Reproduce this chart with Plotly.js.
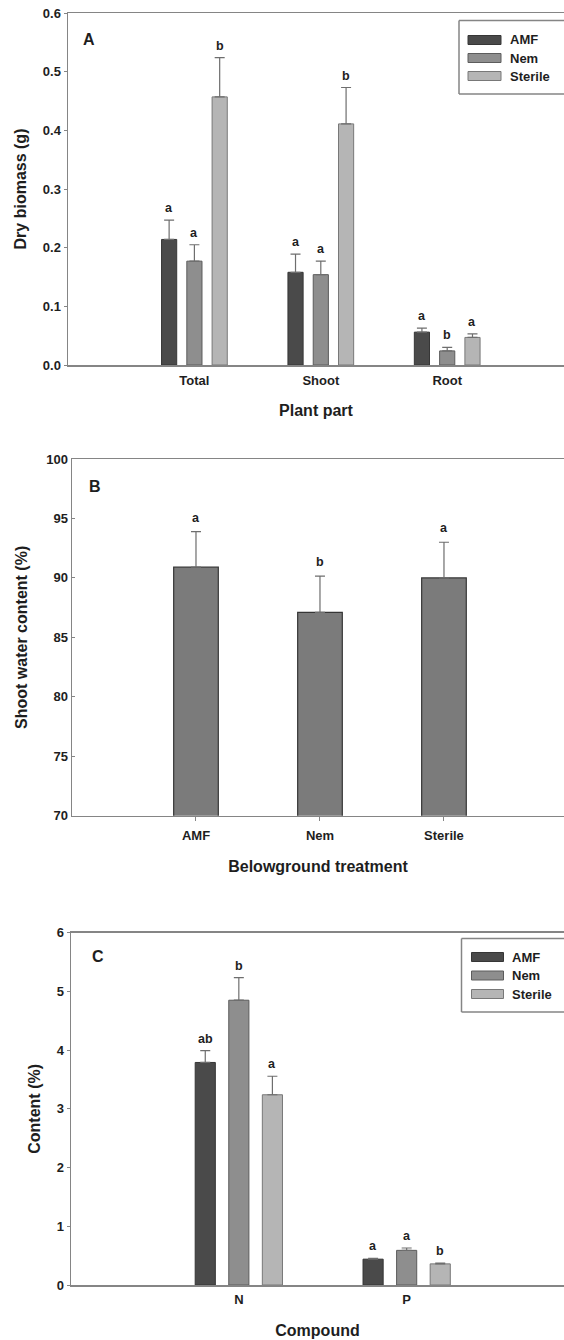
<!DOCTYPE html>
<html><head><meta charset="utf-8">
<script src="https://cdn.plot.ly/plotly-3.0.1.min.js"></script>
<style>html,body{margin:0;padding:0;background:#fff}#chart{width:564px;height:1340px}</style>
</head><body><div id="chart"></div>
<script>
// ---------- data ----------
const treatments = ['AMF', 'Nem', 'Sterile'];

// Panel A: dry biomass (g)
const plantParts = ['Total', 'Shoot', 'Root'];
const biomassAMF = [0.214, 0.158, 0.056];
const biomassNem = [0.177, 0.154, 0.024];
const biomassSterile = [0.457, 0.411, 0.047];
const biomassErrAMF = [0.033, 0.031, 0.007];
const biomassErrNem = [0.028, 0.023, 0.006];
const biomassErrSterile = [0.067, 0.062, 0.006];
const biomassLetAMF = ['a', 'a', 'a'];
const biomassLetNem = ['a', 'a', 'b'];
const biomassLetSterile = ['b', 'b', 'a'];

// Panel B: shoot water content (%)
const waterContent = [90.9, 87.1, 90.0];
const waterErr = [3.0, 3.05, 3.0];
const waterLetters = ['a', 'b', 'a'];

// Panel C: N and P content (%)
const compounds = ['N', 'P'];
const contentAMF = [3.79, 0.44];
const contentNem = [4.85, 0.59];
const contentSterile = [3.24, 0.36];
const contentErrAMF = [0.20, 0.015];
const contentErrNem = [0.385, 0.04];
const contentErrSterile = [0.315, 0.015];
const contentLetAMF = ['ab', 'a'];
const contentLetNem = ['b', 'a'];
const contentLetSterile = ['a', 'b'];

// ---------- styling ----------
const W = 564, H = 1340;
const FONT = 'Liberation Sans, Arial, Helvetica, sans-serif';
const TXT = '#1e1e1e';
const AXC = '#858585';
const fills = ['#4a4a4a', '#8e8e8e', '#b5b5b5'];
const outlines = ['#363636', '#5c5c5c', '#787878'];
const BARGAP = 0.4;
const slot = (1 - BARGAP) / 3;
const px = v => v / W;
const py = v => 1 - v / H;

const traces = [];
const annotations = [];
const shapes = [];

function addGroup(cats, seriesVals, seriesErr, seriesLet, xa, ya) {
  seriesVals.forEach((vals, k) => {
    traces.push({
      type: 'bar', name: treatments[k], x: cats, y: vals,
      xaxis: xa, yaxis: ya, showlegend: false,
      marker: {color: fills[k], line: {color: outlines[k], width: 1}},
      error_y: {type: 'data', symmetric: false, array: seriesErr[k],
        arrayminus: vals.map(() => 0), color: '#6e6e6e', thickness: 1.2, width: 5}
    });
    vals.forEach((v, i) => {
      annotations.push({
        xref: xa, yref: ya, x: i + (k - 1) * slot, y: v + seriesErr[k][i],
        text: seriesLet[k][i], showarrow: false, yanchor: 'bottom', yshift: 3,
        font: {family: FONT, size: 12.5, weight: 'bold', color: TXT}
      });
    });
  });
}

addGroup(plantParts, [biomassAMF, biomassNem, biomassSterile],
  [biomassErrAMF, biomassErrNem, biomassErrSterile],
  [biomassLetAMF, biomassLetNem, biomassLetSterile], 'x', 'y');

traces.push({
  type: 'bar', name: 'Shoot water content', x: treatments, y: waterContent,
  xaxis: 'x2', yaxis: 'y2', showlegend: false,
  marker: {color: '#7b7b7b', line: {color: '#363636', width: 1.2}},
  error_y: {type: 'data', symmetric: false, array: waterErr,
    arrayminus: waterErr.map(() => 0), color: '#6e6e6e', thickness: 1.2, width: 5}
});
waterContent.forEach((v, i) => {
  annotations.push({
    xref: 'x2', yref: 'y2', x: i, y: v + waterErr[i], text: waterLetters[i],
    showarrow: false, yanchor: 'bottom', yshift: 5,
    font: {family: FONT, size: 12.5, weight: 'bold', color: TXT}
  });
});

addGroup(compounds, [contentAMF, contentNem, contentSterile],
  [contentErrAMF, contentErrNem, contentErrSterile],
  [contentLetAMF, contentLetNem, contentLetSterile], 'x3', 'y3');

// panel letters
[['A', 89, 40], ['B', 95, 486], ['C', 98, 956]].forEach(([t, x, y]) => {
  annotations.push({xref: 'paper', yref: 'paper', x: px(x), y: py(y), text: t,
    showarrow: false, xanchor: 'center', yanchor: 'middle',
    font: {family: FONT, size: 16, weight: 'bold', color: TXT}});
});

// legends (panels A and C): box open on the right, cropped at the figure edge
function legendBox(x0, y0, y1, swX0, swX1, txtX, rows) {
  const ln = {color: AXC, width: 1.5};
  shapes.push({type: 'line', xref: 'paper', yref: 'paper', x0: px(x0), x1: 1, y0: py(y0), y1: py(y0), line: ln});
  shapes.push({type: 'line', xref: 'paper', yref: 'paper', x0: px(x0), x1: 1, y0: py(y1), y1: py(y1), line: ln});
  shapes.push({type: 'line', xref: 'paper', yref: 'paper', x0: px(x0), x1: px(x0), y0: py(y0), y1: py(y1), line: ln});
  treatments.forEach((name, k) => {
    shapes.push({type: 'rect', xref: 'paper', yref: 'paper', x0: px(swX0), x1: px(swX1),
      y0: py(rows[k] - 4.5), y1: py(rows[k] + 4.5), fillcolor: fills[k],
      line: {color: outlines[k], width: 1}});
    annotations.push({xref: 'paper', yref: 'paper', x: px(txtX), y: py(rows[k]), text: name,
      showarrow: false, xanchor: 'left', yanchor: 'middle',
      font: {family: FONT, size: 13, weight: 'bold', color: TXT}});
  });
}
legendBox(459, 20.5, 94, 468, 501, 508, [40, 58, 76]);
legendBox(461.5, 938.5, 1012, 471.5, 503.5, 510, [957, 975.5, 994]);

const tickFont = {family: FONT, size: 13, weight: 'bold', color: TXT};
const titleFont = {family: FONT, size: 16, weight: 'bold', color: TXT};
function xax(left, range, title, ticks, lblOff, standoff) {
  return {domain: [px(left), 1], range: range, type: 'category', showline: true, mirror: true,
    linecolor: AXC, linewidth: 1.5, ticks: ticks, ticklen: 4, tickcolor: AXC,
    ticklabelstandoff: lblOff,
    showgrid: false, zeroline: false, tickfont: tickFont, fixedrange: true,
    title: {text: title, font: titleFont, standoff: standoff}};
}
function yax(top, bottom, range, dtick, fmt, title, ticks, standoff) {
  return {domain: [py(bottom), py(top)], range: range, dtick: dtick, tick0: range[0],
    tickformat: fmt, showline: true, mirror: false, linecolor: AXC, linewidth: 1.5,
    ticks: ticks, ticklen: 3, tickcolor: AXC, showgrid: false, zeroline: false,
    tickfont: tickFont, fixedrange: true, title: {text: title, font: titleFont, standoff: standoff}};
}

const layout = {
  width: W, height: H, margin: {l: 0, r: 0, t: 0, b: 0, pad: 0},
  paper_bgcolor: '#fff', plot_bgcolor: '#fff', showlegend: false,
  barmode: 'group', bargap: BARGAP, bargroupgap: 0.4,
  font: {family: FONT, color: TXT},
  xaxis: xax(68, [-1, 2.924], 'Plant part', '', 3, 17),
  yaxis: yax(13, 365, [0, 0.6], 0.1, '.1f', 'Dry biomass (g)', 'outside', 12),
  xaxis2: xax(72, [-1, 2.968], 'Belowground treatment', 'outside', 3, 19),
  yaxis2: yax(459, 815.7, [70, 100], 5, 'd', 'Shoot water content (%)', 'inside', 14),
  xaxis3: xax(71, [-1, 1.9375], 'Compound', '', 2, 18),
  yaxis3: yax(932.7, 1285, [0, 6], 1, 'd', 'Content (%)', 'outside', 12),
  annotations: annotations, shapes: shapes
};
layout.xaxis.anchor = 'y'; layout.yaxis.anchor = 'x';
layout.xaxis2.anchor = 'y2'; layout.yaxis2.anchor = 'x2';
layout.xaxis3.anchor = 'y3'; layout.yaxis3.anchor = 'x3';

Plotly.newPlot('chart', traces, layout, {staticPlot: true, displayModeBar: false});
</script>
</body></html>
